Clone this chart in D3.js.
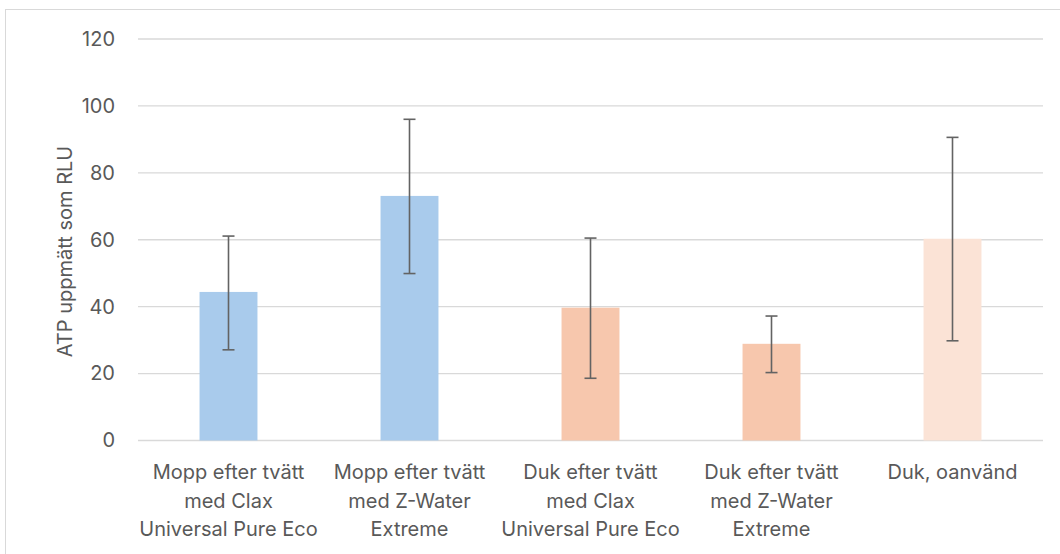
<!DOCTYPE html>
<html>
<head>
<meta charset="utf-8">
<script src="https://cdn.jsdelivr.net/npm/d3@7"></script>
<style>
  body { margin: 0; background: #fff; }
  svg text { font-family: Inter, "Open Sans", sans-serif; fill: #595959; }
</style>
</head>
<body>
<svg id="chart" width="1060" height="554"></svg>
<script>
// data
const categories = [
  ["Mopp efter tvätt", "med Clax", "Universal Pure Eco"],
  ["Mopp efter tvätt", "med Z-Water", "Extreme"],
  ["Duk efter tvätt", "med Clax", "Universal Pure Eco"],
  ["Duk efter tvätt", "med Z-Water", "Extreme"],
  ["Duk, oanvänd"]
];
const means = [44.4, 73.1, 39.7, 28.9, 60.3];
const errLow = [27.1, 49.9, 18.6, 20.3, 29.8];
const errHigh = [61.1, 96.0, 60.5, 37.2, 90.6];
const barColors = ["#a9cbec", "#a9cbec", "#f7c7ad", "#f7c7ad", "#fbe3d6"];
const yTicks = [0, 20, 40, 60, 80, 100, 120];

const svg = d3.select("#chart");

// chart border
svg.append("rect")
  .attr("x", 5.5).attr("y", 9.5)
  .attr("width", 1060).attr("height", 560)
  .attr("fill", "none")
  .attr("stroke", "#d9d9d9");

const margin = { top: 39, left: 138, right: 17, bottom: 114 },
  width = 1060 - margin.left - margin.right,
  height = 554 - margin.top - margin.bottom;

const g = svg.append("g")
  .attr("transform", `translate(${margin.left},${margin.top})`);

const idx = d3.range(categories.length);

const x = d3.scaleBand()
  .domain(idx)
  .range([0, width])
  .paddingInner(0.68)
  .paddingOuter(0.34);

const y = d3.scaleLinear()
  .domain([0, 120])
  .range([height + 0.5, 0]);

// gridlines
g.selectAll(".grid")
  .data(yTicks)
  .enter().append("line")
  .attr("x1", 0).attr("x2", width)
  .attr("y1", d => y(d)).attr("y2", d => y(d))
  .attr("stroke", "#d9d9d9")
  .attr("stroke-width", 1.3);

// y axis labels
const yAxis = g.append("g")
  .call(d3.axisLeft(y).tickValues(yTicks).tickSize(0).tickPadding(23));
yAxis.select(".domain").remove();
yAxis.selectAll("text")
  .style("font-size", "20px")
  .attr("fill", "#595959");

// bars
g.selectAll(".bar")
  .data(idx)
  .enter().append("rect")
  .attr("class", "bar")
  .attr("x", i => x(i))
  .attr("y", i => y(means[i]))
  .attr("width", x.bandwidth())
  .attr("height", i => y(0) - y(means[i]))
  .attr("fill", i => barColors[i]);

// error bars
const cx = i => x(i) + x.bandwidth() / 2;
const err = g.selectAll(".err")
  .data(idx)
  .enter().append("g")
  .attr("stroke", "#636363")
  .attr("stroke-width", 1.6);
err.append("line")
  .attr("x1", cx).attr("x2", cx)
  .attr("y1", i => y(errLow[i])).attr("y2", i => y(errHigh[i]));
err.append("line")
  .attr("x1", i => cx(i) - 6).attr("x2", i => cx(i) + 6)
  .attr("y1", i => y(errLow[i])).attr("y2", i => y(errLow[i]));
err.append("line")
  .attr("x1", i => cx(i) - 6).attr("x2", i => cx(i) + 6)
  .attr("y1", i => y(errHigh[i])).attr("y2", i => y(errHigh[i]));

// category labels
const labels = g.selectAll(".cat")
  .data(idx)
  .enter().append("text")
  .attr("text-anchor", "middle")
  .attr("transform", i => `translate(${cx(i)},${height + 39})`)
  .style("font-size", "20px");
labels.selectAll("tspan")
  .data(i => categories[i])
  .enter().append("tspan")
  .attr("x", 0)
  .attr("dy", (d, k) => k === 0 ? 0 : 28.5)
  .text(d => d);

// y axis title
svg.append("text")
  .attr("transform", `translate(72,${margin.top + height / 2 + 12}) rotate(-90)`)
  .attr("text-anchor", "middle")
  .style("font-size", "20px")
  .text("ATP uppmätt som RLU");
</script>
</body>
</html>
